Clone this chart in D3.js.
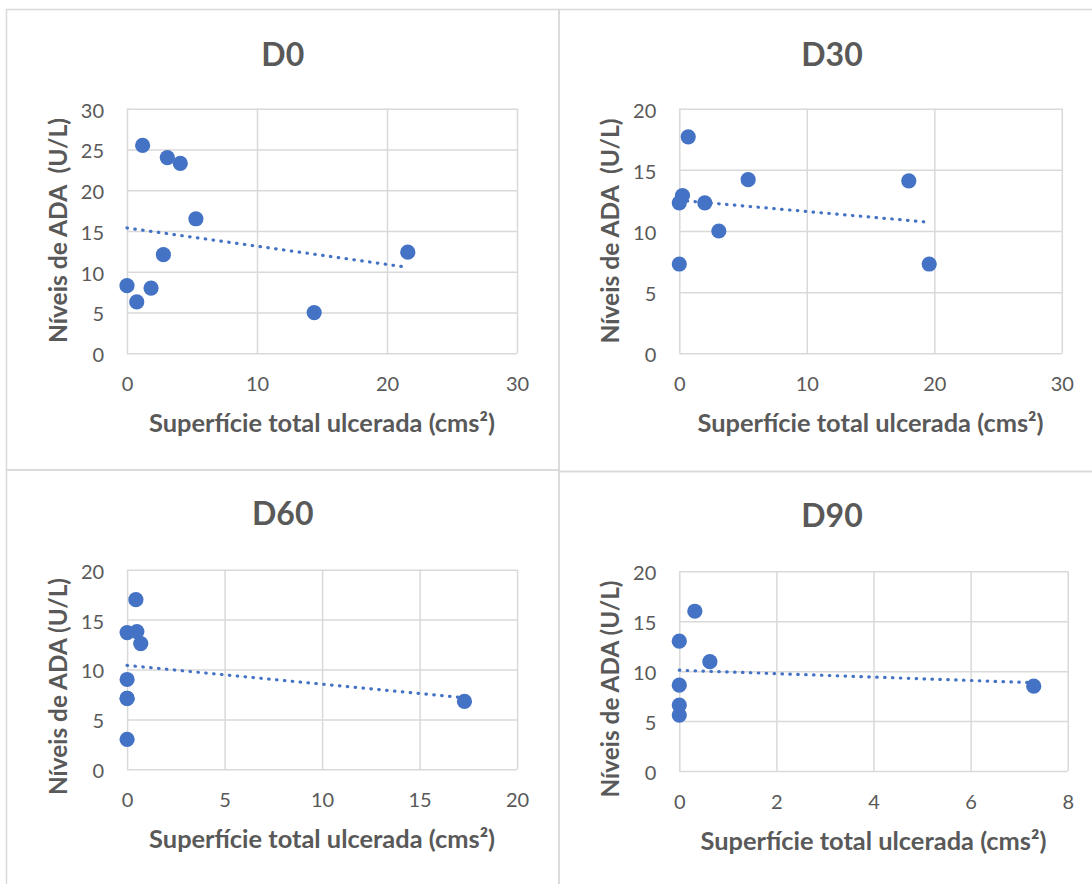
<!DOCTYPE html>
<html>
<head>
<meta charset="utf-8">
<script src="https://cdn.jsdelivr.net/npm/d3@7"></script>
<style>
  html, body { margin: 0; padding: 0; background: #ffffff; }
  svg { display: block; }
  text { font-family: Lato, "Open Sans", sans-serif; fill: #595959; }
</style>
</head>
<body>
<svg id="chart" width="1092" height="884"></svg>
<script>
// ---- Data ----
const panelTitles = ["D0", "D30", "D60", "D90"];

const d0X = [1.2, 3.1, 4.1, 5.3, 2.8, 0, 0.75, 1.85, 14.4, 21.6];
const d0Y = [25.5, 24.0, 23.3, 16.5, 12.1, 8.3, 6.3, 8.0, 5.0, 12.4];

const d30X = [0.7, 5.4, 18.0, 0.25, 0, 2.0, 3.1, 0, 19.6];
const d30Y = [17.7, 14.2, 14.1, 12.9, 12.3, 12.3, 10.0, 7.3, 7.3];

const d60X = [0.45, 0, 0.5, 0.7, 0, 0, 0, 0, 17.3];
const d60Y = [17.0, 13.7, 13.8, 12.6, 9.0, 7.1, 7.1, 3.0, 6.8];

const d90X = [0.32, 0, 0.63, 0, 0, 0, 7.3];
const d90Y = [16.0, 13.0, 10.95, 8.6, 6.6, 5.6, 8.5];

const d0XTicks = [0, 10, 20, 30];
const d0YTicks = [0, 5, 10, 15, 20, 25, 30];
const d30XTicks = [0, 10, 20, 30];
const d30YTicks = [0, 5, 10, 15, 20];
const d60XTicks = [0, 5, 10, 15, 20];
const d60YTicks = [0, 5, 10, 15, 20];
const d90XTicks = [0, 2, 4, 6, 8];
const d90YTicks = [0, 5, 10, 15, 20];

const xAxisTitle = "Superfície total ulcerada (cms²)";
const yAxisTitles = ["Níveis de ADA  (U/L)", "Níveis de ADA  (U/L)", "Níveis de ADA (U/L)", "Níveis de ADA (U/L)"];

// ---- Layout ----
const layout = [
  { box: [6.5, 9.5, 552.5, 460.5], plot: [127, 517, 108.7, 353.3], titleY: 66, yTitleC: 230.5 },
  { box: [559, 9.5, 560, 462], plot: [679.3, 1061.8, 108.7, 353.3], titleX: 832, titleY: 65.5, yTitleC: 231 },
  { box: [6.5, 470, 552.5, 430], plot: [127.1, 517.1, 569.7, 769.3], titleY: 525, yTitleC: 686.5 },
  { box: [559, 471.5, 560, 430], plot: [679.3, 1067.7, 571.3, 771], titleX: 832, titleY: 526.5, yTitleC: 689 }
];

const series = [
  { x: d0X, y: d0Y, xt: d0XTicks, yt: d0YTicks },
  { x: d30X, y: d30Y, xt: d30XTicks, yt: d30YTicks },
  { x: d60X, y: d60Y, xt: d60XTicks, yt: d60YTicks },
  { x: d90X, y: d90Y, xt: d90XTicks, yt: d90YTicks }
];

const blue = "#4472C4";
const grid = "#d9d9d9";
const svg = d3.select("#chart");

function linReg(xs, ys) {
  const n = xs.length;
  const mx = d3.mean(xs), my = d3.mean(ys);
  let sxy = 0, sxx = 0;
  for (let i = 0; i < n; i++) { sxy += (xs[i] - mx) * (ys[i] - my); sxx += (xs[i] - mx) ** 2; }
  const b = sxy / sxx;
  return { a: my - b * mx, b };
}

series.forEach((s, i) => {
  const L = layout[i];
  const [bx, by, bw, bh] = L.box;
  const [pl, pr, pt, pb] = L.plot;
  const g = svg.append("g");

  // panel border
  g.append("rect").attr("x", bx).attr("y", by).attr("width", bw).attr("height", bh)
    .attr("fill", "none").attr("stroke", grid).attr("stroke-width", 1.5);

  const x = d3.scaleLinear().domain(d3.extent(s.xt)).range([pl, pr]);
  const y = d3.scaleLinear().domain(d3.extent(s.yt)).range([pb, pt]);

  // title
  g.append("text").attr("x", L.titleX || (bx + bw / 2)).attr("y", L.titleY)
    .attr("text-anchor", "middle").attr("font-weight", 700).attr("font-size", 32)
    .text(panelTitles[i]);

  // y axis with gridlines
  const ya = g.append("g").attr("transform", `translate(${pl},0)`)
    .call(d3.axisLeft(y).tickValues(s.yt).tickSize(-(pr - pl)).tickPadding(23).tickFormat(d3.format("d")));
  ya.select(".domain").remove();
  ya.selectAll("line").attr("stroke", grid).attr("stroke-width", 1.5);
  ya.selectAll("text").attr("font-size", 20).attr("dy", "0.42em")
    .style("font-family", "Lato, sans-serif").attr("fill", "#595959");

  // x axis with gridlines
  const xa = g.append("g").attr("transform", `translate(0,${pb})`)
    .call(d3.axisBottom(x).tickValues(s.xt).tickSize(-(pb - pt)).tickPadding(24).tickFormat(d3.format("d")));
  xa.select(".domain").remove();
  xa.selectAll("line").attr("stroke", grid).attr("stroke-width", 1.5);
  xa.selectAll("text").attr("font-size", 20)
    .style("font-family", "Lato, sans-serif").attr("fill", "#595959");

  // axis titles
  g.append("text").attr("x", (pl + pr) / 2).attr("y", pb + 79)
    .attr("text-anchor", "middle").attr("font-weight", 700).attr("font-size", 24)
    .attr("textLength", 346).attr("lengthAdjust", "spacingAndGlyphs")
    .text(xAxisTitle);

  const ytl = yAxisTitles[i].indexOf("  ") >= 0 ? 225 : 217;
  g.append("text").attr("transform", `translate(${pl - 60},${L.yTitleC}) rotate(-90)`)
    .attr("text-anchor", "middle").attr("font-weight", 700).attr("font-size", 24)
    .attr("textLength", ytl).attr("lengthAdjust", "spacingAndGlyphs")
    .style("white-space", "pre")
    .text(yAxisTitles[i]);

  // trendline
  const r = linReg(s.x, s.y);
  const [x0, x1] = d3.extent(s.x);
  g.append("line")
    .attr("x1", x(x0)).attr("y1", y(r.a + r.b * x0))
    .attr("x2", x(x1)).attr("y2", y(r.a + r.b * x1))
    .attr("stroke", blue).attr("stroke-width", 3.2)
    .attr("stroke-linecap", "round").attr("stroke-dasharray", "0.5 7.4");

  // points
  g.selectAll("circle.pt").data(d3.range(s.x.length)).enter().append("circle")
    .attr("class", "pt")
    .attr("cx", j => x(s.x[j])).attr("cy", j => y(s.y[j]))
    .attr("r", 7.6).attr("fill", blue);
});
</script>
</body>
</html>
